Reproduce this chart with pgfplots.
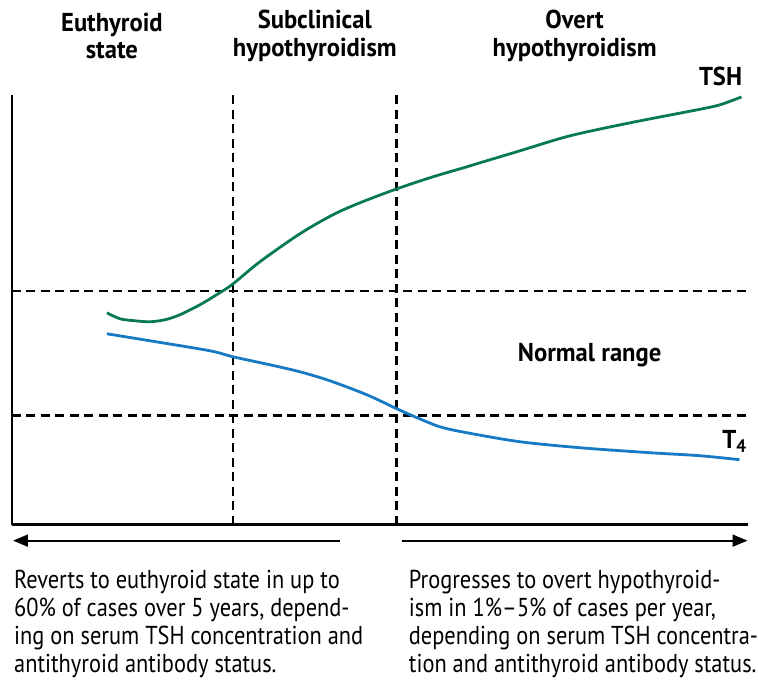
\documentclass[border=0pt]{standalone}
\usepackage{pgfplots}
\pgfplotsset{compat=1.18}
\usepackage{fontspec}
\setmainfont{PT Sans}[FakeStretch=0.865, BoldFeatures={FakeStretch=0.95}]
\usetikzlibrary{arrows.meta}
\definecolor{tshgreen}{RGB}{8,122,82}
\definecolor{tfblue}{RGB}{22,122,196}
\begin{document}
\begin{tikzpicture}
\begin{axis}[x=1bp,y=1bp,xmin=12,xmax=748,ymin=0,ymax=430,
  axis x line=bottom, axis y line=left,
  axis line style={-,line width=2.6bp},
  xtick=\empty, ytick=\empty, clip=false]
% bounding box
\path (axis cs:0,-157) rectangle (axis cs:758,525);
% reference lines
\draw[black,line width=2.5bp,dash pattern=on 9bp off 5.5bp] (axis cs:233,0) -- (axis cs:233,430);
\draw[black,line width=2.5bp,dash pattern=on 9bp off 5.5bp] (axis cs:397,0) -- (axis cs:397,430);
\draw[black,line width=2.5bp,dash pattern=on 9bp off 5.5bp] (axis cs:12,234) -- (axis cs:748,234);
\draw[black,line width=2.5bp,dash pattern=on 9bp off 5.5bp] (axis cs:12,109) -- (axis cs:748,109);
% TSH
\addplot[tshgreen,line width=2.8bp,smooth,tension=0.5] coordinates {
(107,212)(120,206)(135,204)(150,203)(165,205)(180,210)(200,220)(215,229)(232,240)(260,263)(300,291)(333,310)(360,322)(397,336)(433,348)(467,358)(480,362)(520,374)(570,389)(630,402)(697,415)(720,420)(742,428)};
% T4
\addplot[tfblue,line width=2.8bp,smooth,tension=0.5] coordinates {
(107,191)(150,184)(210,174)(233,168)(270,160)(300,153)(330,144)(367,130)(397,116)(415,108)(440,98)(467,92)(520,83)(580,77)(650,72)(700,69)(740,65)};
\begin{scope}[every node/.style={font=\fontsize{26}{28}\selectfont, inner sep=0pt}]
\node[font=\fontsize{26}{28}\selectfont\bfseries] at (axis cs:590,170) {Normal range};
\node[font=\fontsize{26}{28}\selectfont\bfseries] at (axis cs:721,449) {TSH};
\node[font=\fontsize{26}{28}\selectfont\bfseries] at (axis cs:735,83) {T\textsubscript{4}};
\node[font=\fontsize{26}{28}\selectfont\bfseries,align=center] at (axis cs:112,489) {Euthyroid\\state};
\node[font=\fontsize{26}{28}\selectfont\bfseries,align=center] at (axis cs:315,489) {Subclinical\\hypothyroidism};
\node[font=\fontsize{26}{28}\selectfont\bfseries,align=center] at (axis cs:575,489) {Overt\\hypothyroidism};
\node[align=left,anchor=north west,font=\fontsize{26}{28.3}\selectfont] at (axis cs:14,-45) {Reverts to euthyroid state in up to\\60\% of cases over 5 years, depend-\\ing on serum TSH concentration and\\antithyroid antibody status.};
\node[align=left,anchor=north west,font=\fontsize{26}{28.3}\selectfont] at (axis cs:409,-45) {Progresses to overt hypothyroid-\\ism in 1\%--5\% of cases per year,\\depending on serum TSH concentra-\\tion and antithyroid antibody status.};
\end{scope}
\draw[line width=1.8bp,-{Triangle[length=15bp,width=12bp]}] (axis cs:340,-16) -- (axis cs:13,-16);
\draw[line width=1.8bp,-{Triangle[length=15bp,width=12bp]}] (axis cs:402,-16) -- (axis cs:748,-16);
\end{axis}
\end{tikzpicture}
\end{document}
